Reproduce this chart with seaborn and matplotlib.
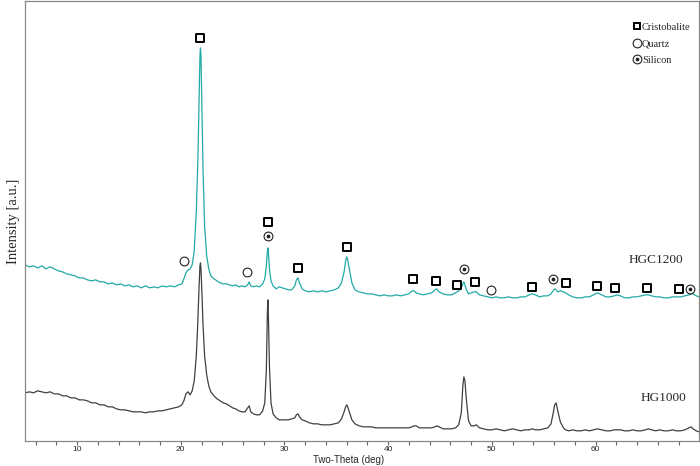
import numpy as np
import pandas as pd
import matplotlib
matplotlib.use('Agg')
import matplotlib.pyplot as plt
from matplotlib.lines import Line2D
import seaborn as sns

# 2-theta grid shared by both patterns (deg)
two_theta = [
    5.0, 5.4, 5.8, 6.2, 6.6, 7.0, 7.4, 7.8, 8.2, 8.6, 9.0, 9.4, 9.8, 10.2, 10.6, 11.0, 11.4, 11.8, 12.2,
    12.6, 13.0, 13.4, 13.8, 14.2, 14.6, 15.0, 15.4, 15.8, 16.2, 16.6, 17.0, 17.4, 17.8, 18.2, 18.6, 19.0,
    19.4, 19.8,
    20.1, 20.3, 20.5, 20.7, 20.9, 21.1, 21.3, 21.5, 21.65, 21.75, 21.85, 21.9, 21.95, 22.05, 22.15, 22.3,
    22.5, 22.7, 22.9, 23.2, 23.5, 23.8,
    24.1, 24.4, 24.7, 25.0, 25.3, 25.6, 25.9, 26.2, 26.45, 26.6, 26.75, 27.0, 27.3, 27.6, 27.9, 28.1,
    28.25, 28.35, 28.4, 28.45, 28.55, 28.7, 28.9, 29.2, 29.5, 29.8, 30.1, 30.4, 30.7, 31.0, 31.15, 31.3,
    31.45, 31.7, 32.0, 32.4, 32.8, 33.2, 33.6, 34.0, 34.4, 34.8,
    35.2, 35.5, 35.75, 35.9, 36.0, 36.1, 36.25, 36.5, 36.8, 37.2, 37.6, 38.0, 38.4, 38.8, 39.2, 39.6,
    40.0, 40.4, 40.8, 41.2, 41.6, 42.0, 42.3, 42.5, 42.7, 43.0, 43.4, 43.8, 44.2, 44.5, 44.7, 44.9, 45.3,
    45.7, 46.1, 46.5, 46.8, 47.05, 47.2, 47.3, 47.4, 47.55, 47.75, 48.0, 48.3, 48.5, 48.8, 49.2, 49.6,
    50.0,
    50.4, 50.8, 51.2, 51.6, 52.0, 52.4, 52.8, 53.2, 53.6, 53.9, 54.2, 54.6, 55.0, 55.4, 55.7, 55.9,
    56.05, 56.2, 56.35, 56.6, 56.9, 57.1, 57.4, 57.8, 58.2, 58.6, 59.0, 59.4, 59.8, 60.2, 60.6, 61.0,
    61.4, 61.8, 62.1, 62.4, 62.8, 63.2, 63.6, 64.0,
    64.4, 64.8, 65.1, 65.4, 65.8, 66.2, 66.6, 67.0, 67.4, 67.8, 68.2, 68.6, 69.0, 69.2, 69.4, 69.7, 70.0,
]

# HGC1200 intensity (offset upwards, a.u.)
hgc1200 = [
    176, 174, 175, 173, 175, 172, 174, 172, 170, 169, 167, 166, 165, 163, 163, 161, 160, 161, 159,
    159, 157, 158, 156, 157, 155, 156, 154, 155, 153, 155, 153, 154, 153, 155, 154, 155,
    154, 156,
    157, 162, 168, 171, 172, 176, 190, 230, 280, 330, 385, 393, 385, 330, 270, 215,
    185, 172, 165, 162, 160, 158,
    157, 157, 156, 155, 156, 154, 155, 154, 156, 159, 155, 154, 155, 154, 157, 162,
    175, 189, 193, 189, 172, 160, 155, 152, 154, 153, 152, 151, 151, 155, 161, 163,
    158, 152, 150, 149, 150, 149, 150, 149, 150, 151,
    153, 158, 169, 180, 184, 181, 172, 158, 151, 149, 148, 147, 147, 146, 145, 146,
    145, 145, 146, 145, 146, 147, 150, 150, 148, 147, 146, 147, 148, 151, 152, 149, 147,
    146, 146, 148, 150, 153, 157, 159, 156, 151, 147, 148, 149, 149, 146, 145, 144,
    143,
    144, 143, 143, 144, 143, 143, 144, 144, 146, 147, 146, 144, 145, 145, 147, 150,
    152, 151, 149, 150, 149, 148, 146, 144, 143, 143, 144, 144, 146, 148, 146, 144,
    144, 145, 146, 145, 143, 143, 144, 144,
    145, 146, 146, 145, 144, 144, 143, 143, 144, 144, 144, 145, 146, 147, 147, 145, 144,
]

# HG1000 intensity (a.u.)
hg1000 = [
    48, 49, 48, 50, 49, 48, 49, 47, 47, 45, 45, 43, 43, 41, 41, 40, 38, 38, 36,
    36, 34, 34, 32, 31, 31, 30, 29, 29, 29, 28, 29, 29, 30, 30, 31, 32,
    33, 34,
    36, 40, 47, 49, 46, 50, 60, 85, 120, 150, 175, 178, 172, 145, 115, 85,
    66, 55, 49, 45, 42, 40,
    38, 37, 35, 33, 32, 30, 29, 29, 33, 35, 29, 27, 26, 26, 30, 38,
    70, 128, 141, 125, 75, 38, 27, 23, 21, 21, 21, 21, 22, 23, 26, 27,
    24, 21, 20, 18, 17, 17, 16, 16, 16, 17,
    18, 22, 29, 34, 36, 34, 29, 21, 17, 15, 14, 14, 14, 13, 13, 13,
    13, 13, 13, 13, 13, 13, 14, 15, 15, 13, 13, 13, 13, 14, 15, 14, 12,
    12, 12, 13, 16, 28, 55, 64, 60, 40, 20, 15, 15, 16, 13, 12, 11,
    11,
    12, 11, 10, 11, 12, 11, 10, 11, 11, 12, 11, 11, 12, 13, 17, 27,
    36, 38, 30, 19, 13, 11, 10, 11, 10, 10, 11, 10, 11, 12, 11, 10,
    10, 11, 11, 11, 10, 10, 11, 10,
    10, 11, 12, 11, 10, 11, 10, 10, 11, 10, 10, 11, 13, 14, 12, 10, 9,
]

# phase markers (2-theta, height)
cristobalite_x = [21.9, 28.4, 31.3, 36.0, 42.4, 44.6, 46.6, 48.4, 53.9, 57.1, 60.1, 61.9, 65.0, 68.0]
cristobalite_y = [403, 219, 173, 194, 162, 160, 156, 159, 154, 158, 155, 153, 153, 152]
quartz_x = [20.3, 26.4, 49.9]
quartz_y = [180, 169, 151]
silicon_x = [28.4, 47.3, 55.9, 69.1]
silicon_y = [205, 172, 162, 152]

df = pd.DataFrame({'two_theta': two_theta, 'HGC1200': hgc1200, 'HG1000': hg1000})

sns.set_style('white')
plt.rcParams['font.family'] = ['Liberation Sans', 'DejaVu Sans']

fig, ax = plt.subplots(figsize=(7, 4.66), dpi=100)
fig.subplots_adjust(left=0.036, right=0.999, bottom=0.054, top=0.998)

sns.lineplot(data=df, x='two_theta', y='HGC1200', color='#22aaa6', linewidth=0.9, ax=ax)
sns.lineplot(data=df, x='two_theta', y='HG1000', color='#404040', linewidth=0.9, ax=ax)

# markers above the peaks
ax.scatter(cristobalite_x, cristobalite_y, marker='s', s=26, facecolor='white',
           edgecolor='black', linewidth=1.4, zorder=5)
ax.scatter(quartz_x, quartz_y, marker='o', s=40, facecolor='white',
           edgecolor='#222222', linewidth=0.8, zorder=5)
ax.scatter(silicon_x, silicon_y, marker='o', s=40, facecolor='white',
           edgecolor='#222222', linewidth=0.8, zorder=5)
ax.scatter(silicon_x, silicon_y, marker='o', s=3, color='#222222', zorder=6)

serif = {'family': 'Liberation Serif'}
ax.text(68.45, 181, 'HGC1200', ha='right', va='center', fontsize=9.5, fontdict=serif)
ax.text(68.8, 43, 'HG1000', ha='right', va='center', fontsize=9.5, fontdict=serif)

# legend
h1 = Line2D([], [], ls='none', marker='s', mfc='white', mec='black', mew=1.4, ms=5)
h2 = Line2D([], [], ls='none', marker='o', mfc='white', mec='#222222', mew=0.8, ms=6.3)
h3b = Line2D([], [], ls='none', marker='o', color='#222222', ms=1.7)
ax.legend([h1, h2, (h2, h3b)], ['Cristobalite', 'Quartz', 'Silicon'], loc='upper right',
          bbox_to_anchor=(0.993, 0.96), frameon=False, handlelength=0.7, handletextpad=0.15,
          labelspacing=0.68, borderaxespad=0, prop={'family': 'Liberation Serif', 'size': 7.5})

ax.set_xlim(5, 70)
ax.set_ylim(0, 440)
ax.set_xticks([10, 20, 30, 40, 50, 60])
ax.set_xticks(np.arange(6, 70, 2), minor=True)
ax.set_yticks([])
ax.tick_params(axis='x', which='both', direction='out', length=3, width=0.8, color='#666666',
               labelsize=6, pad=1, bottom=True)
ax.set_xlabel('Two-Theta (deg)', fontsize=7)
ax.xaxis.set_label_coords(0.48, -0.033)
ax.set_ylabel('Intensity [a.u.]', fontsize=10.5, labelpad=4, fontdict=serif)
for side in ['left', 'bottom', 'top', 'right']:
    ax.spines[side].set_color('#888888')
    ax.spines[side].set_linewidth(0.9)

fig.savefig('out.png', dpi=100)
